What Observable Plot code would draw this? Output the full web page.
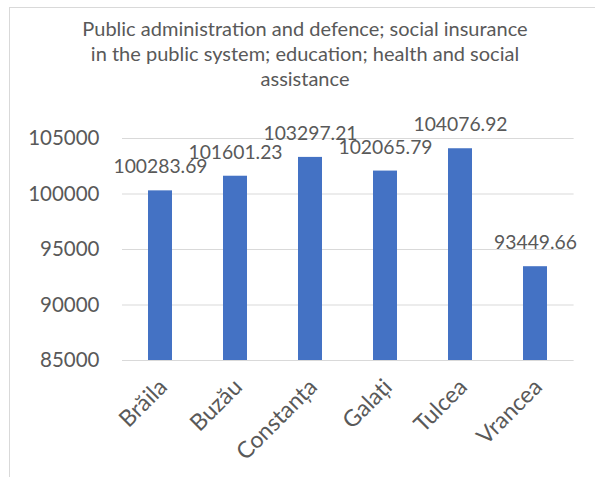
<!DOCTYPE html>
<html><head><meta charset="utf-8">
<script src="https://cdn.jsdelivr.net/npm/d3@7"></script>
<script src="https://cdn.jsdelivr.net/npm/@observablehq/plot@0.6"></script>
<style>
body{margin:0;background:#fff;}
#wrap{position:relative;width:595px;height:477px;overflow:hidden;font-family:Lato,"Open Sans",sans-serif;background:#fff;}
#frame{position:absolute;left:9px;top:7px;width:700px;height:600px;border:1px solid #d9d9d9;box-sizing:border-box;}
#title{position:absolute;left:55px;width:500px;top:16px;text-align:center;color:#595959;font-size:20px;line-height:25px;}
#chart{position:absolute;left:0;top:0;}
</style></head>
<body>
<div id="wrap"><div id="frame"></div><div id="chart"></div><div id="title"></div></div>
<script>
const titleLines = ["Public administration and defence; social insurance","in the public system; education; health and social","assistance"];
const counties = ["Brăila","Buzău","Constanța","Galați","Tulcea","Vrancea"];
const values = [100283.69, 101601.23, 103297.21, 102065.79, 104076.92, 93449.66];
const yTicks = [85000, 90000, 95000, 100000, 105000];

const data = counties.map((c, i) => ({county: c, value: values[i]}));
document.getElementById("title").innerHTML = titleLines.join("<br>");

const text = "#595959";
const chart = Plot.plot({
  width: 595, height: 477,
  marginLeft: 122, marginRight: 21.4, marginTop: 138, marginBottom: 117,
  style: {fontFamily: "Lato, 'Open Sans', sans-serif", color: text, background: "transparent"},
  x: {domain: counties, paddingInner: 0.685, paddingOuter: 0.3425, axis: null},
  y: {domain: [yTicks[0], yTicks[yTicks.length-1]], axis: null},
  marks: [
    Plot.gridY(yTicks, {stroke: "#d9d9d9", strokeOpacity: 1, strokeWidth: 1.2}),
    Plot.barY(data, {x: "county", y1: yTicks[0], y2: "value", fill: "#4472c4"}),
    Plot.text(data, {x: "county", y: "value", text: d => d.value.toFixed(2), lineAnchor: "bottom", dy: -17.5, fontSize: 19.3, fill: text}),
    Plot.axisY(yTicks, {label: null, tickSize: 0, tickPadding: 23, tickFormat: d3.format("d"), fontSize: 20.5, fill: text}),
    Plot.text(counties, {x: d => d, frameAnchor: "bottom", rotate: -45, textAnchor: "end", dx: 8, dy: 28, fontSize: 23, fill: text})
  ]
});
document.getElementById("chart").appendChild(chart);
</script>
</body></html>
